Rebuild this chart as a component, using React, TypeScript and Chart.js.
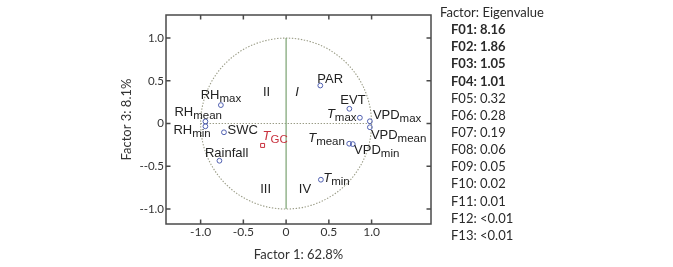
import React, { useEffect, useRef } from 'react';
import { Chart, registerables } from 'chart.js';

Chart.register(...registerables);

// ---- data ----
const variableMain = ['PAR', 'EVT', 'T', 'VPD', 'VPD', 'T', 'VPD', 'T', 'RH', 'RH', 'RH', 'SWC', 'Rainfall'];
const variableSub = ['', '', 'max', 'max', 'mean', 'mean', 'min', 'min', 'max', 'mean', 'min', '', ''];
const variableItalic = [false, false, true, false, false, true, false, true, false, false, false, false, false];
const factor1Loadings = [0.40, 0.74, 0.863, 0.98, 0.98, 0.738, 0.78, 0.407, -0.763, -0.944, -0.944, -0.727, -0.78];
const factor3Loadings = [0.445, 0.173, 0.068, 0.027, -0.043, -0.236, -0.24, -0.657, 0.216, 0.025, -0.032, -0.102, -0.435];

const tgcMain = 'T';
const tgcSub = 'GC';
const tgcFactor1 = [-0.275];
const tgcFactor3 = [-0.256];

const quadrantNames = ['I', 'II', 'III', 'IV'];
const quadrantX = [0.127, -0.228, -0.24, 0.22];
const quadrantY = [0.368, 0.368, -0.775, -0.775];

const xTickValues = [-1, -0.5, 0, 0.5, 1];
const xTickLabels = ['-1.0', '-0.5', '0', '0.5', '1.0'];
const yTickValues = [-1, -0.5, 0, 0.5, 1];
const yTickLabels = ['--1.0', '--0.5', '0', '0.5', '1.0'];

const xTitle = 'Factor 1: 62.8%';
const yTitle = 'Factor 3: 8.1%';

const eigenHeader = 'Factor: Eigenvalue';
const eigenFactors = ['F01', 'F02', 'F03', 'F04', 'F05', 'F06', 'F07', 'F08', 'F09', 'F10', 'F11', 'F12', 'F13'];
const eigenValues = ['8.16', '1.86', '1.05', '1.01', '0.32', '0.28', '0.19', '0.06', '0.05', '0.02', '0.01', '<0.01', '<0.01'];
const eigenRetained = [true, true, true, true, false, false, false, false, false, false, false, false, false];

// ---- layout (label placement relative to each point, in px) ----
const labelAlign = ['left', 'left', 'right', 'left', 'left', 'right', 'left', 'left', 'center', 'left', 'left', 'left', 'left'];
const labelDx = [-3, -9, -3.3, 3, 1, -4.3, 1.3, 2.3, 0, -31, -32, 3.5, -14.5];
const labelDy = [-7.5, -9.5, -4, -7, 7, -6, 5.5, -2, -11, -10.5, 3, -2.5, -8];

const AREA = { left: 166, right: 431, top: 15, bottom: 224, width: 673, height: 267 };
const LABEL_FONT = 'Liberation Sans, Arial, sans-serif';
const PANEL_FONT = 'Lato, "Open Sans", sans-serif';

function drawLabel(ctx: CanvasRenderingContext2D, main: string, sub: string, italic: boolean,
  x: number, y: number, align: string, color: string) {
  const mainSize = 13;
  const subSize = 11.5;
  const mainFont = `${italic ? 'italic ' : ''}${mainSize}px ${LABEL_FONT}`;
  const subFont = `${subSize}px ${LABEL_FONT}`;
  ctx.font = mainFont;
  const mw = ctx.measureText(main).width;
  ctx.font = subFont;
  const sw = sub ? ctx.measureText(sub).width : 0;
  const total = mw + sw;
  let startX = x;
  if (align === 'right') startX = x - total;
  else if (align === 'center') startX = x - total / 2;
  const baseline = y + mainSize * 0.716 / 2;
  ctx.fillStyle = color;
  ctx.textAlign = 'left';
  ctx.textBaseline = 'alphabetic';
  ctx.font = mainFont;
  ctx.fillText(main, startX, baseline);
  if (sub) {
    ctx.font = subFont;
    ctx.fillText(sub, startX + mw, baseline + 3);
  }
}

const decorPlugin = {
  id: 'decor',
  beforeDatasetsDraw(chart: any) {
    const { ctx, scales } = chart;
    const xs = scales.x, ys = scales.y;
    const cx = xs.getPixelForValue(0), cy = ys.getPixelForValue(0);
    const rx = xs.getPixelForValue(1) - cx;
    const ry = cy - ys.getPixelForValue(1);
    ctx.save();
    // unit circle (dotted)
    ctx.strokeStyle = '#9a9c86';
    ctx.lineWidth = 1.1;
    ctx.setLineDash([1.4, 1.6]);
    ctx.beginPath();
    ctx.ellipse(cx, cy, rx, ry, 0, 0, Math.PI * 2);
    ctx.stroke();
    // horizontal zero line (dotted)
    ctx.beginPath();
    ctx.moveTo(xs.getPixelForValue(-1), cy);
    ctx.lineTo(xs.getPixelForValue(1), cy);
    ctx.stroke();
    ctx.setLineDash([]);
    // vertical zero line (solid green)
    ctx.strokeStyle = '#84a97c';
    ctx.lineWidth = 1.3;
    ctx.beginPath();
    ctx.moveTo(cx, ys.getPixelForValue(1));
    ctx.lineTo(cx, ys.getPixelForValue(-1));
    ctx.stroke();
    // quadrant labels
    ctx.fillStyle = '#222';
    ctx.textAlign = 'center';
    ctx.textBaseline = 'middle';
    quadrantNames.forEach((q, i) => {
      ctx.font = `${q === 'I' ? 'italic ' : ''}13px ${LABEL_FONT}`;
      ctx.fillText(q, xs.getPixelForValue(quadrantX[i]), ys.getPixelForValue(quadrantY[i]));
    });
    ctx.restore();
  },
  afterDraw(chart: any) {
    const { ctx, scales, chartArea } = chart;
    const xs = scales.x, ys = scales.y;
    ctx.save();
    // frame
    ctx.strokeStyle = '#4a4a4a';
    ctx.lineWidth = 1.5;
    ctx.strokeRect(chartArea.left, chartArea.top, chartArea.right - chartArea.left, chartArea.bottom - chartArea.top);
    // inward ticks on all four sides
    const tl = 4.5;
    ctx.beginPath();
    xTickValues.forEach((v) => {
      const px = xs.getPixelForValue(v);
      ctx.moveTo(px, chartArea.bottom);
      ctx.lineTo(px, chartArea.bottom - tl);
      ctx.moveTo(px, chartArea.top);
      ctx.lineTo(px, chartArea.top + tl);
    });
    yTickValues.forEach((v) => {
      const py = ys.getPixelForValue(v);
      ctx.moveTo(chartArea.left, py);
      ctx.lineTo(chartArea.left + tl, py);
      ctx.moveTo(chartArea.right, py);
      ctx.lineTo(chartArea.right - tl, py);
    });
    ctx.stroke();
    // variable labels
    variableMain.forEach((m, i) => {
      const px = xs.getPixelForValue(factor1Loadings[i]);
      const py = ys.getPixelForValue(factor3Loadings[i]);
      drawLabel(ctx, m, variableSub[i], variableItalic[i], px + labelDx[i], py + labelDy[i], labelAlign[i], '#222');
    });
    {
      const px = xs.getPixelForValue(tgcFactor1[0]);
      const py = ys.getPixelForValue(tgcFactor3[0]);
      drawLabel(ctx, tgcMain, tgcSub, true, px, py - 10, 'left', '#c8323f');
    }
    // eigenvalue panel
    ctx.fillStyle = '#2a2a2a';
    ctx.textAlign = 'left';
    ctx.textBaseline = 'middle';
    ctx.font = `13px ${PANEL_FONT}`;
    ctx.fillText(eigenHeader, 440, 13);
    eigenFactors.forEach((f, i) => {
      ctx.font = `${eigenRetained[i] ? 'bold ' : ''}13px ${PANEL_FONT}`;
      ctx.fillText(`${f}: ${eigenValues[i]}`, 451, 30 + i * 17.14);
    });
    ctx.restore();
  },
};

export default function App() {
  const canvasRef = useRef<HTMLCanvasElement | null>(null);
  useEffect(() => {
    const canvas = canvasRef.current;
    if (!canvas) return;
    const chart = new Chart(canvas, {
      type: 'scatter',
      data: {
        datasets: [
          {
            label: 'Variables',
            data: factor1Loadings.map((x, i) => ({ x, y: factor3Loadings[i] })),
            pointStyle: 'circle',
            pointRadius: 2.4,
            borderWidth: 1,
            borderColor: '#4f5fb0',
            backgroundColor: 'rgba(255,255,255,0)',
          },
          {
            label: 'TGC',
            data: tgcFactor1.map((x, i) => ({ x, y: tgcFactor3[i] })),
            pointStyle: 'rect',
            pointRadius: 2.8,
            borderWidth: 1,
            borderColor: '#c8323f',
            backgroundColor: 'rgba(255,255,255,0)',
          },
        ],
      },
      options: {
        responsive: false,
        animation: false,
        devicePixelRatio: 1,
        layout: { padding: { top: AREA.top, right: AREA.width - AREA.right, left: 0, bottom: 0 } },
        plugins: { legend: { display: false }, tooltip: { enabled: false } },
        scales: {
          x: {
            type: 'linear',
            min: -1.405,
            max: 1.695,
            grid: { display: false, drawTicks: false },
            border: { display: false },
            afterBuildTicks: (s: any) => { s.ticks = xTickValues.map((v) => ({ value: v })); },
            afterFit: (s: any) => { s.height = AREA.height - AREA.bottom; },
            ticks: {
              padding: 1,
              color: '#333',
              font: { family: PANEL_FONT, size: 12 },
              callback: (v: any) => { const i = xTickValues.indexOf(Number(v)); return i >= 0 ? xTickLabels[i] : ''; },
            },
            title: {
              display: true,
              text: xTitle,
              color: '#333',
              font: { family: PANEL_FONT, size: 13 },
              padding: { top: 0, bottom: 4.2 },
            },
          },
          y: {
            type: 'linear',
            min: -1.175,
            max: 1.27,
            grid: { display: false, drawTicks: false },
            border: { display: false },
            afterBuildTicks: (s: any) => { s.ticks = yTickValues.map((v) => ({ value: v })); },
            afterFit: (s: any) => { s.width = AREA.left; },
            ticks: {
              padding: 2,
              color: '#333',
              font: { family: PANEL_FONT, size: 11.5 },
              callback: (v: any) => { const i = yTickValues.indexOf(Number(v)); return i >= 0 ? yTickLabels[i] : ''; },
            },
            title: {
              display: true,
              text: yTitle,
              color: '#333',
              font: { family: PANEL_FONT, size: 13 },
              padding: { top: 119.2, bottom: 0 },
            },
          },
        },
      },
      plugins: [decorPlugin],
    });
    return () => chart.destroy();
  }, []);
  return (
    <div style={{ position: 'fixed', left: 0, top: 0, width: AREA.width, height: AREA.height, background: '#fff' }}>
      <canvas ref={canvasRef} width={AREA.width} height={AREA.height} style={{ display: 'block' }} />
    </div>
  );
}
